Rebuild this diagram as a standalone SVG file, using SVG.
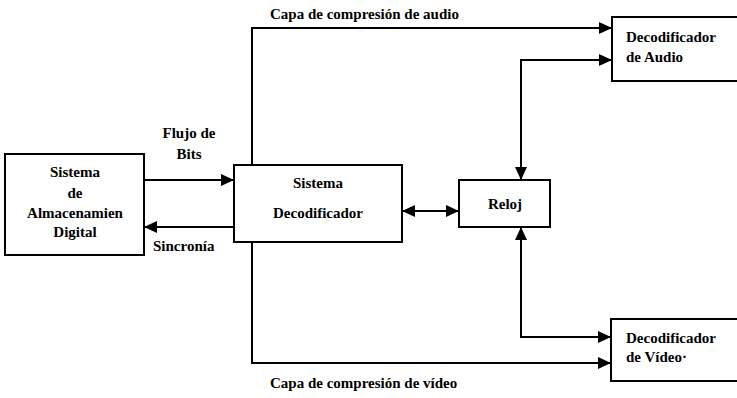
<svg xmlns="http://www.w3.org/2000/svg" width="737" height="398" viewBox="0 0 737 398">
<defs>
<style>
.box{fill:#fff;stroke:#000;stroke-width:2}
text{font-family:'Liberation Serif','Times New Roman','DejaVu Serif',serif;font-weight:bold;font-size:15px;fill:#000}
.c{text-anchor:middle}
.ln{fill:none;stroke:#000;stroke-width:2}
</style>
<marker id="ah" markerUnits="userSpaceOnUse" markerWidth="14" markerHeight="12" refX="13" refY="6" orient="auto-start-reverse" viewBox="0 0 14 12">
<path d="M0 0 L13 6 L0 12 Z" fill="#000"/>
</marker>
</defs>
<rect width="737" height="398" fill="#fff"/>
<g id="connectors">
<path class="ln" d="M144 180 H234" marker-end="url(#ah)"/>
<path class="ln" d="M234 227 H144" marker-end="url(#ah)"/>
<path class="ln" d="M252 165 V28 H612" marker-end="url(#ah)"/>
<path class="ln" d="M252 242 V363 H611" marker-end="url(#ah)"/>
<path class="ln" d="M402 211 H459" marker-start="url(#ah)" marker-end="url(#ah)"/>
<path class="ln" d="M521 180 V60 H612" marker-start="url(#ah)" marker-end="url(#ah)"/>
<path class="ln" d="M521 227 V337 H611" marker-start="url(#ah)" marker-end="url(#ah)"/>
</g>
<g id="labels" font-family="Liberation Serif, serif">
<text x="270" y="19">Capa de compresión de audio</text>
<text x="270" y="388">Capa de compresión de vídeo</text>
<text class="c" x="189" y="138">Flujo de</text>
<text class="c" x="189" y="159">Bits</text>
<text x="153" y="251">Sincronía</text>
</g>
<g id="almacenamiento">
<rect class="box" x="5" y="154" width="139" height="101"/>
<text class="c" x="75" y="177">Sistema</text>
<text class="c" x="75" y="198">de</text>
<text class="c" x="75" y="218">Almacenamien</text>
<text class="c" x="75" y="237">Digital</text>
</g>
<g id="decodificador">
<rect class="box" x="234" y="165" width="168" height="77"/>
<text class="c" x="318" y="188">Sistema</text>
<text class="c" x="318" y="218">Decodificador</text>
</g>
<g id="reloj">
<rect class="box" x="459" y="180" width="91" height="47"/>
<text class="c" x="505" y="209">Reloj</text>
</g>
<g id="audio">
<rect class="box" x="612" y="17" width="140" height="64"/>
<text x="626" y="42">Decodificador</text>
<text x="626" y="62">de Audio</text>
</g>
<g id="video">
<rect class="box" x="611" y="319" width="140" height="62"/>
<text x="626" y="343">Decodificador</text>
<text x="626" y="362">de Vídeo·</text>
</g>
</svg>
